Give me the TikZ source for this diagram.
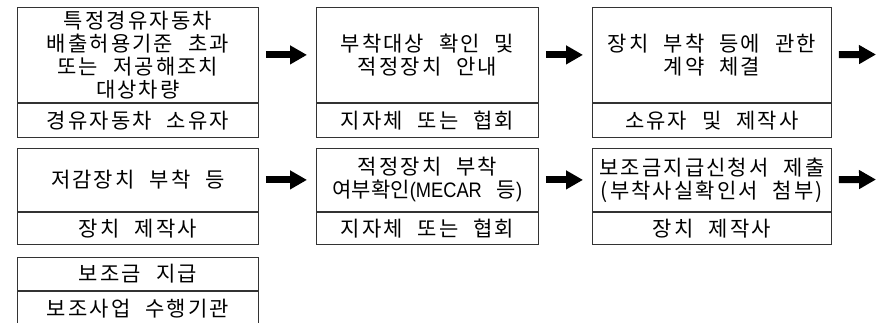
\documentclass[tikz,border=0pt]{standalone}
\usepackage{fontspec}
\usetikzlibrary{positioning,arrows.meta}
\newfontfamily\kr{Noto Sans CJK KR}[LetterSpace=10,WordSpace=2.2]
\newfontfamily\krtight{Noto Sans CJK KR}[WordSpace=2]
\newfontfamily\lat{Liberation Sans}[FakeStretch=0.87]

\begin{document}
\begin{tikzpicture}[x=1pt,y=-1pt,
	box/.style={draw=black!80,line width=0.8pt,inner sep=0pt,align=center,anchor=north west,
		font=\kr\fontsize{21}{23}\selectfont},
	lower/.style={box,minimum height=#1},
	flow/.style={line width=7pt,-{Triangle[length=17pt,width=18pt]},shorten <=7pt,shorten >=9pt}]
	\useasboundingbox (0,0) rectangle (893,322);
	\def \wa{241pt}
	\def \wb{222pt}
	\def \wc{239pt}
	% first row
	\node[box,minimum width=\wa,minimum height=95pt] (a1) at (17,7)
		{특정경유자동차\\배출허용기준 초과\\또는 저공해조치\\대상차량};
	\node[lower=34pt,minimum width=\wa,below=0pt of a1] (a1b) {경유자동차 소유자};
	\node[box,minimum width=\wb,minimum height=95pt] (a2) at (316,7)
		{부착대상 확인 및\\적정장치 안내};
	\node[lower=34pt,minimum width=\wb,below=0pt of a2] (a2b) {지자체 또는 협회};
	\node[box,minimum width=\wc,minimum height=95pt] (a3) at (592,7)
		{장치 부착 등에 관한\\계약 체결};
	\node[lower=34pt,minimum width=\wc,below=0pt of a3] (a3b) {소유자 및 제작사};
	\coordinate (ae) at (885,54.5);
	% second row
	\node[box,minimum width=\wa,minimum height=63pt] (b1) at (17,148)
		{저감장치 부착 등};
	\node[lower=32pt,minimum width=\wa,below=0pt of b1] (b1b) {장치 제작사};
	\node[box,minimum width=\wb,minimum height=63pt] (b2) at (316,148)
		{적정장치 부착\\{\krtight 여부확인}{\lat (MECAR} {\krtight 등}{\lat )}};
	\node[lower=32pt,minimum width=\wb,below=0pt of b2] (b2b) {지자체 또는 협회};
	\node[box,minimum width=\wc,minimum height=63pt] (b3) at (592,148)
		{보조금지급신청서 제출\\(부착사실확인서 첨부)};
	\node[lower=32pt,minimum width=\wc,below=0pt of b3] (b3b) {장치 제작사};
	\coordinate (be) at (885,179.5);
	% third row
	\node[box,minimum width=\wa,minimum height=33pt] (c1) at (17,257) {보조금 지급};
	\node[lower=34pt,minimum width=\wa,below=0pt of c1] (c1b) {보조사업 수행기관};
	% arrows
	\draw[flow] (a1) -- (a2);
	\draw[flow] (a2) -- (a3);
	\draw[flow] (a3) -- (ae);
	\draw[flow] (b1) -- (b2);
	\draw[flow] (b2) -- (b3);
	\draw[flow] (b3) -- (be);
\end{tikzpicture}
\end{document}
